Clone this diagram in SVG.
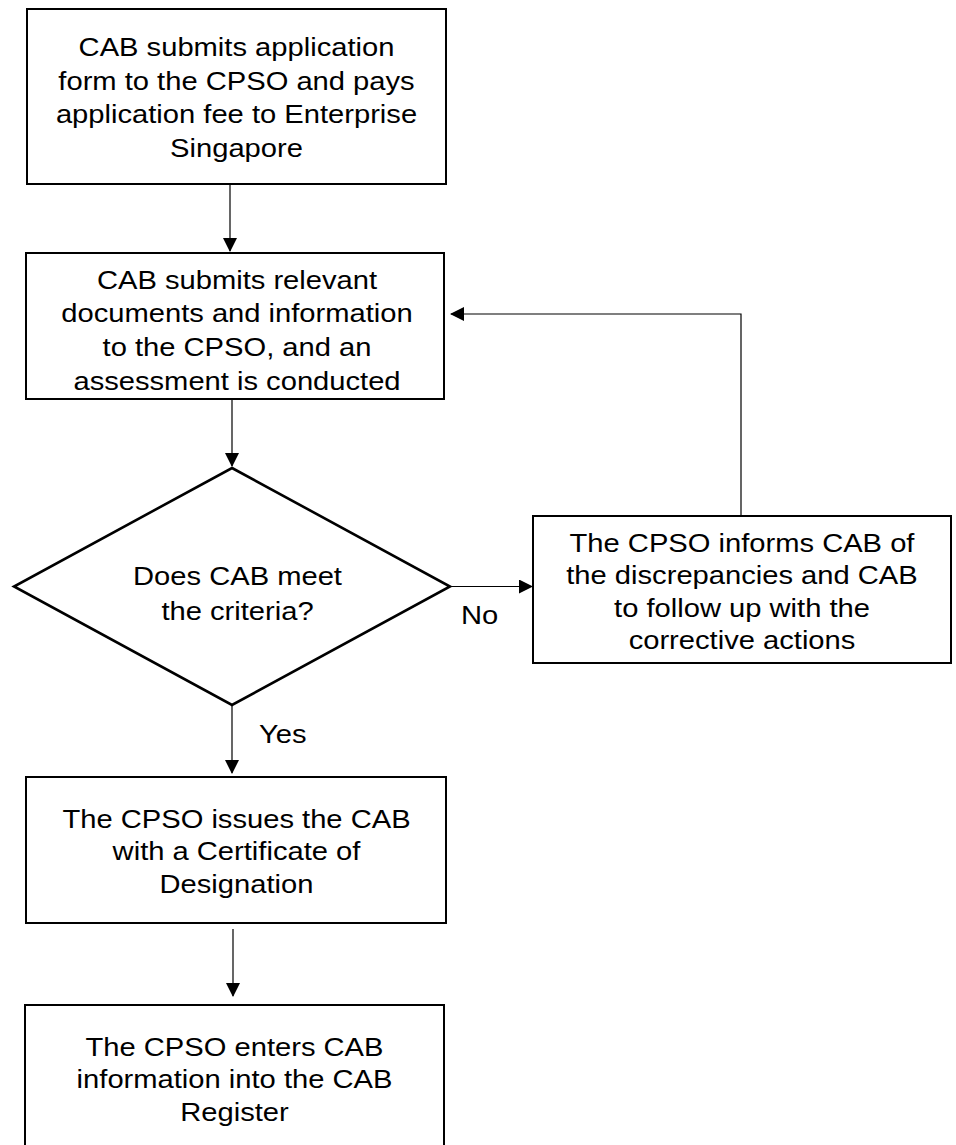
<svg xmlns="http://www.w3.org/2000/svg" width="956" height="1145" viewBox="0 0 956 1145">
<style>
.box{fill:#fff;stroke:#000;stroke-width:2}
.dia{fill:#fff;stroke:#000;stroke-width:2.6;stroke-linejoin:miter}
.con{fill:none;stroke:#000;stroke-width:1.2}
.t{font-family:"Liberation Sans",Arial,sans-serif;font-size:26.5px;fill:#000;text-anchor:middle}
.lbl{font-family:"Liberation Sans",Arial,sans-serif;font-size:26.5px;fill:#000}
</style>
<defs>
<marker id="ah" markerWidth="14" markerHeight="14" refX="13" refY="7" orient="auto" markerUnits="userSpaceOnUse">
<path d="M0,0 L14,7 L0,14 Z" fill="#000"/>
</marker>
</defs>
<rect width="956" height="1145" fill="#fff"/>
<g id="connectors">
<line class="con" x1="230" y1="184" x2="230" y2="251" marker-end="url(#ah)"/>
<line class="con" x1="232" y1="399" x2="232" y2="466" marker-end="url(#ah)"/>
<line class="con" x1="450" y1="586.5" x2="532" y2="586.5" marker-end="url(#ah)"/>
<polyline class="con" points="741,516 741,314 451,314" marker-end="url(#ah)"/>
<line class="con" x1="232" y1="705" x2="232" y2="773" marker-end="url(#ah)"/>
<line class="con" x1="233" y1="929" x2="233" y2="996" marker-end="url(#ah)"/>
<text class="lbl" x="461" y="624" transform="translate(461,0) scale(1.1,1) translate(-461,0)">No</text>
<text class="lbl" x="259" y="743" transform="translate(259,0) scale(1.1,1) translate(-259,0)">Yes</text>
</g>
<g id="node1">
<rect class="box" x="27" y="9" width="419" height="175"/>
<text class="t" transform="translate(236.5,0) scale(1.1,1)"><tspan x="0" y="56">CAB submits application</tspan><tspan x="0" y="90">form to the CPSO and pays</tspan><tspan x="0" y="123">application fee to Enterprise</tspan><tspan x="0" y="157">Singapore</tspan></text>
</g>
<g id="node2">
<rect class="box" x="26" y="253" width="418" height="146"/>
<text class="t" transform="translate(237,0) scale(1.1,1)"><tspan x="0" y="289">CAB submits relevant</tspan><tspan x="0" y="322">documents and information</tspan><tspan x="0" y="356">to the CPSO, and an</tspan><tspan x="0" y="390">assessment is conducted</tspan></text>
</g>
<g id="node3">
<polygon class="dia" points="232,468 450,586.5 232,705 14,586.5"/>
<text class="t" transform="translate(237.5,0) scale(1.1,1)"><tspan x="0" y="585">Does CAB meet</tspan><tspan x="0" y="620">the criteria?</tspan></text>
</g>
<g id="node4">
<rect class="box" x="533" y="516" width="418" height="147"/>
<text class="t" transform="translate(742,0) scale(1.1,1)"><tspan x="0" y="552">The CPSO informs CAB of</tspan><tspan x="0" y="584.5">the discrepancies and CAB</tspan><tspan x="0" y="617">to follow up with the</tspan><tspan x="0" y="649.5">corrective actions</tspan></text>
</g>
<g id="node5">
<rect class="box" x="26" y="777" width="420" height="146"/>
<text class="t" transform="translate(236.5,0) scale(1.1,1)"><tspan x="0" y="828">The CPSO issues the CAB</tspan><tspan x="0" y="860.5">with a Certificate of</tspan><tspan x="0" y="893">Designation</tspan></text>
</g>
<g id="node6">
<rect class="box" x="25" y="1005" width="419" height="150"/>
<text class="t" transform="translate(234.5,0) scale(1.1,1)"><tspan x="0" y="1056">The CPSO enters CAB</tspan><tspan x="0" y="1088.5">information into the CAB</tspan><tspan x="0" y="1121">Register</tspan></text>
</g>
</svg>
